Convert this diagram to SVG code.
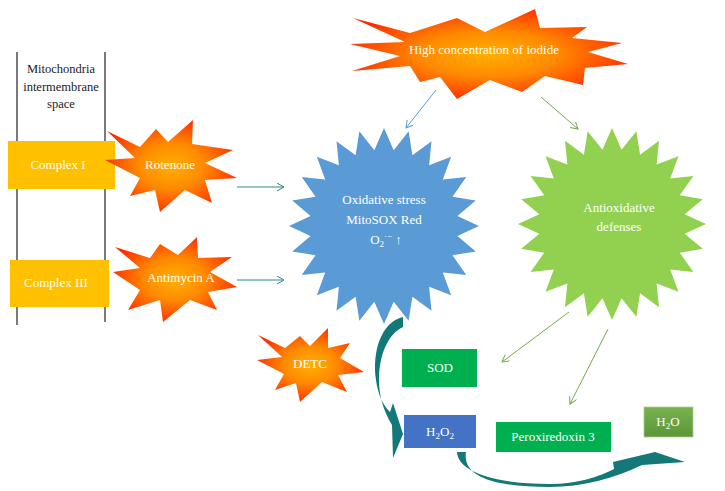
<svg xmlns="http://www.w3.org/2000/svg" xmlns:xlink="http://www.w3.org/1999/xlink" width="725" height="491" viewBox="0 0 725 491">
<style>
.t{font-family:"Liberation Serif","Times New Roman",serif;font-size:13px;fill:#ffffff;text-anchor:middle}
.dk{fill:#222222;font-size:12.5px}
.mem{stroke:#222222;stroke-width:1.2;fill:none}
.thin{fill:none;stroke-width:1}
</style>
<defs>
<radialGradient id="fire" cx="0.5" cy="0.5" r="0.55">
<stop offset="0" stop-color="#FFB000"/>
<stop offset="0.45" stop-color="#FF8A00"/>
<stop offset="1" stop-color="#FF2600"/>
</radialGradient>
<linearGradient id="h2o" x1="0" y1="0" x2="0" y2="1">
<stop offset="0" stop-color="#78B24E"/>
<stop offset="1" stop-color="#5E9638"/>
</linearGradient>
<polygon id="star24" points="100,0 77.3,10.2 96.6,25.9 72.1,29.9 86.6,50 61.9,47.5 70.7,70.7 47.5,61.9 50,86.6 29.9,72.1 25.9,96.6 10.2,77.3 0,100 -10.2,77.3 -25.9,96.6 -29.9,72.1 -50,86.6 -47.5,61.9 -70.7,70.7 -61.9,47.5 -86.6,50 -72.1,29.9 -96.6,25.9 -77.3,10.2 -100,0 -77.3,-10.2 -96.6,-25.9 -72.1,-29.9 -86.6,-50 -61.9,-47.5 -70.7,-70.7 -47.5,-61.9 -50,-86.6 -29.9,-72.1 -25.9,-96.6 -10.2,-77.3 0,-100 10.2,-77.3 25.9,-96.6 29.9,-72.1 50,-86.6 47.5,-61.9 70.7,-70.7 61.9,-47.5 86.6,-50 72.1,-29.9 96.6,-25.9 77.3,-10.2"/>
<marker id="mTeal" markerWidth="10" markerHeight="10" refX="8" refY="4" orient="auto" markerUnits="userSpaceOnUse">
<path d="M1,0 L8,4 L1,8" fill="none" stroke="#2E8A87" stroke-width="1"/>
</marker>
<marker id="mBlue" markerWidth="10" markerHeight="10" refX="8" refY="4" orient="auto" markerUnits="userSpaceOnUse">
<path d="M1,0 L8,4 L1,8" fill="none" stroke="#5B9BD5" stroke-width="1"/>
</marker>
<marker id="mGreen" markerWidth="10" markerHeight="10" refX="8" refY="4" orient="auto" markerUnits="userSpaceOnUse">
<path d="M1,0 L8,4 L1,8" fill="none" stroke="#77A94A" stroke-width="1"/>
</marker>
</defs>

<g id="membrane">
<line class="mem" x1="17" y1="52" x2="17" y2="325"/>
<line class="mem" x1="105" y1="52" x2="105" y2="322"/>
<text class="t dk" x="61" y="73">Mitochondria</text>
<text class="t dk" x="61" y="91">intermembrane</text>
<text class="t dk" x="61" y="108">space</text>
</g>

<g id="complex1">
<rect x="8" y="141" width="107" height="48" fill="#FFC000"/>
<text class="t" x="58" y="169">Complex I</text>
</g>

<g id="complex3">
<rect x="10" y="260" width="99" height="47" fill="#FFC000"/>
<text class="t" x="56" y="287">Complex III</text>
</g>

<g id="rotenone">
<polygon fill="url(#fire)" points="107,131 140,147 156,129 168,142 193,120 192,144 233,150 205,163 237,178 205,180 212,203 185,190 160,212 155,190 130,196 140,178 105,160 135,158"/>
<text class="t" x="170" y="169">Rotenone</text>
</g>

<g id="antimycin">
<polygon fill="url(#fire)" points="115,247 150,258 160,244 178,255 197,237 198,258 232,257 210,272 237,287 208,292 217,310 190,300 163,322 160,300 128,310 140,290 113,272 140,268"/>
<text class="t" x="181" y="282">Antimycin A</text>
</g>

<g id="iodide">
<polygon fill="url(#fire)" points="353,18 410,33 457,18 485,32 535,9 540,28 587,27 572,38 622,43 588,52 628,64 585,68 583,85 545,76 522,92 490,80 457,99 440,77 420,82 410,66 352,71 400,56 350,44 405,42"/>
<text class="t" x="484" y="54">High concentration of iodide</text>
</g>

<g id="oxidative">
<use xlink:href="#star24" href="#star24" fill="#5B9BD5" transform="translate(384,226) scale(0.95,0.98)"/>
<text class="t" x="384" y="204">Oxidative stress</text>
<text class="t" x="384" y="224">MitoSOX Red</text>
<text class="t" x="386" y="244">O<tspan font-size="9" dy="3">2</tspan><tspan font-size="9" dy="-8">·−</tspan><tspan dy="5"> ↑</tspan></text>
</g>

<g id="antioxidative">
<use xlink:href="#star24" href="#star24" fill="#92D050" transform="translate(612,224) scale(0.94,0.96)"/>
<text class="t" x="619" y="212">Antioxidative</text>
<text class="t" x="619" y="231">defenses</text>
</g>

<g id="detc">
<polygon fill="url(#fire)" points="258,335 285,348 300,336 310,346 328,328 328,348 350,343 340,358 364,372 338,375 347,392 322,382 300,402 296,383 275,390 284,374 257,360 282,357"/>
<text class="t" x="310" y="368">DETC</text>
</g>

<g id="sod">
<rect x="402" y="349" width="75" height="38" fill="#00B050"/>
<text class="t" x="440" y="372">SOD</text>
</g>

<g id="h2o2">
<rect x="404" y="415" width="72" height="33" fill="#4472C4"/>
<text class="t" x="440" y="436">H<tspan font-size="9" dy="3">2</tspan><tspan dy="-3">O</tspan><tspan font-size="9" dy="3">2</tspan></text>
</g>

<g id="prx3">
<rect x="496" y="422" width="115" height="30" fill="#00B050"/>
<text class="t" x="553" y="441">Peroxiredoxin 3</text>
</g>

<g id="h2o">
<rect x="644" y="407" width="49" height="30" fill="url(#h2o)" stroke="#A9CF8E" stroke-width="0.8"/>
<text class="t" x="668" y="426">H<tspan font-size="9" dy="3">2</tspan><tspan dy="-3">O</tspan></text>
</g>

<g id="connectors">
<line class="thin" x1="237" y1="187" x2="284" y2="187" stroke="#2E8A87" marker-end="url(#mTeal)"/>
<line class="thin" x1="237" y1="280" x2="284" y2="280" stroke="#2E8A87" marker-end="url(#mTeal)"/>
<line class="thin" x1="436" y1="90" x2="406" y2="128" stroke="#5B9BD5" marker-end="url(#mBlue)"/>
<line class="thin" x1="541" y1="97" x2="578" y2="129" stroke="#77A94A" marker-end="url(#mGreen)"/>
<line class="thin" x1="569" y1="312" x2="502" y2="362" stroke="#77A94A" marker-end="url(#mGreen)"/>
<line class="thin" x1="608" y1="329" x2="570" y2="404" stroke="#77A94A" marker-end="url(#mGreen)"/>
<path fill="#137878" d="M403,317 C381,322 372,352 376,380 C378,395 383,405 390,412 L393,403 L403,434 L393,458 L392,425 C383,410 379,395 379,380 C379,355 388,334 403,327 Z"/>
<path fill="#137878" d="M457,452 C458,472 495,484 550,484 C578,484 598,477 614,469 L613,462 L655,452 L685,462 L642,465 C615,478 582,487 550,487 C495,487 462,477 466,452 Z"/>
</g>
</svg>
